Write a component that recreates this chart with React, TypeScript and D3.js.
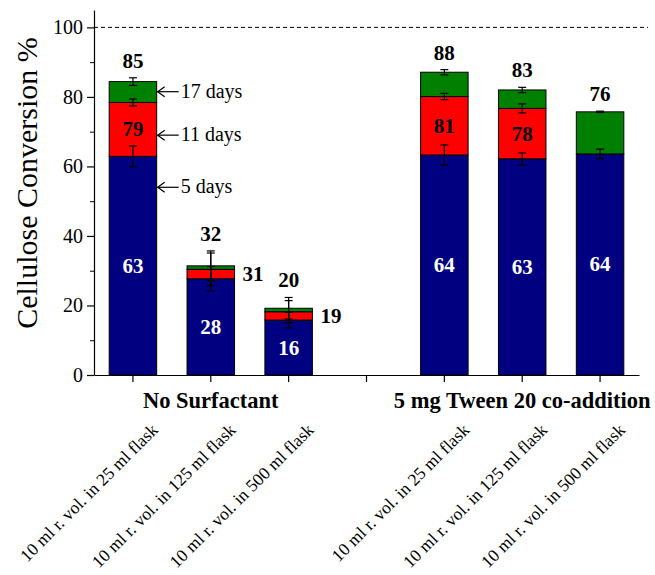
import { useEffect, useRef } from "react";
import * as d3 from "d3";

// slot 3 is the empty gap between the two groups
const slots = [0, 1, 2, 3, 4, 5, 6];
const barSlots = [0, 1, 2, 4, 5, 6];
const categories = [
  "10 ml r. vol. in 25 ml flask",
  "10 ml r. vol. in 125 ml flask",
  "10 ml r. vol. in 500 ml flask",
  "10 ml r. vol. in 25 ml flask",
  "10 ml r. vol. in 125 ml flask",
  "10 ml r. vol. in 500 ml flask",
];
const groups = ["No Surfactant", "5 mg Tween 20 co-addition"];
const groupCenters = [1, 5];

// cumulative conversion (%) after 5, 11 and 17 days
const day5 = [62.9, 27.7, 15.8, 63.3, 62.2, 63.6];
const day11 = [78.4, 30.4, 18.2, 80.1, 76.7, 63.6];
const day17 = [84.4, 31.4, 19.2, 87.1, 82.0, 75.7];
const err5 = [3.0, 3.5, 2.2, 2.9, 1.7, 1.4];
const err11 = [1.0, 4.7, 3.2, 0.9, 1.3, 0];
const err17 = [1.1, 4.3, 3.1, 0.75, 0.75, 0.2];
const labels5 = ["63", "28", "16", "64", "63", "64"];
const labels11 = ["79", "31", "19", "81", "78", ""];
const labels17 = ["85", "32", "20", "88", "83", "76"];

const dayNames = ["17 days", "11 days", "5 days"];
const dayArrowAt = [81.5, 69, 54];

const yTicks = [0, 20, 40, 60, 80, 100];
const yMinor = [10, 30, 50, 70, 90];

const colors = ["#000080", "#ff0000", "#008000"];

const App = () => {
  const svgRef = useRef<SVGSVGElement | null>(null);

  useEffect(() => {
    const svg = d3.select(svgRef.current);
    svg.selectAll("*").remove();

    const font = "'Liberation Serif', 'Times New Roman', serif";
    const x = d3.scaleBand<number>().domain(slots).range([94, 639]).paddingInner(0.39).paddingOuter(0.195);
    const y = d3.scaleLinear().domain([0, 105]).range([375, 10]);
    const bw = x.bandwidth();
    const cx = (i: number) => (x(barSlots[i]) as number) + bw / 2;

    // dashed 100% line
    svg.append("line")
      .attr("x1", 94).attr("x2", 648)
      .attr("y1", y(100)).attr("y2", y(100))
      .attr("stroke", "#000").attr("stroke-width", 1)
      .attr("stroke-dasharray", "4,3");

    // stacked bars
    const g = svg.append("g");
    barSlots.forEach((s, i) => {
      const segs = [
        [0, day5[i]],
        [day5[i], day11[i]],
        [day11[i], day17[i]],
      ];
      segs.forEach(([a, b], k) => {
        if (b - a <= 0) return;
        g.append("rect")
          .attr("x", x(s) as number)
          .attr("y", y(b))
          .attr("width", bw)
          .attr("height", y(a) - y(b))
          .attr("fill", colors[k])
          .attr("stroke", "#000")
          .attr("stroke-width", 1);
      });
    });

    // error bars
    const drawErr = (v: number, e: number, i: number) => {
      const c = cx(i);
      const eg = svg.append("g").attr("stroke", "#000").attr("stroke-width", 1.2);
      eg.append("line").attr("x1", c).attr("x2", c).attr("y1", y(v - e)).attr("y2", y(v + e));
      [v - e, v + e].forEach((t) => {
        eg.append("line").attr("x1", c - 4).attr("x2", c + 4).attr("y1", y(t)).attr("y2", y(t));
      });
    };
    barSlots.forEach((_, i) => {
      drawErr(day5[i], err5[i], i);
      if (day11[i] > day5[i]) drawErr(day11[i], err11[i], i);
      drawErr(day17[i], err17[i], i);
    });

    // value labels
    barSlots.forEach((_, i) => {
      const c = cx(i);
      svg.append("text")
        .attr("x", c).attr("y", (y(0) + y(day5[i])) / 2 + 7)
        .attr("text-anchor", "middle").attr("font-family", font)
        .attr("font-size", 21).attr("font-weight", "bold").attr("fill", "#fff")
        .text(labels5[i]);
      if (labels11[i]) {
        const mid = (y(day5[i]) + y(day11[i])) / 2 + 7;
        const small = y(day5[i]) - y(day11[i]) < 25;
        svg.append("text")
          .attr("x", small ? c + bw / 2 + 8 : c).attr("y", mid)
          .attr("text-anchor", small ? "start" : "middle").attr("font-family", font)
          .attr("font-size", 21).attr("font-weight", "bold").attr("fill", "#000")
          .text(labels11[i]);
      }
      svg.append("text")
        .attr("x", c).attr("y", y(day17[i] + err17[i]) - 10)
        .attr("text-anchor", "middle").attr("font-family", font)
        .attr("font-size", 21).attr("font-weight", "bold").attr("fill", "#000")
        .text(labels17[i]);
    });

    // day arrows next to first bar
    const ax = cx(0) + bw / 2 + 1;
    dayNames.forEach((t, k) => {
      const yy = y(dayArrowAt[k]);
      svg.append("line").attr("x1", ax).attr("x2", ax + 21).attr("y1", yy).attr("y2", yy)
        .attr("stroke", "#000").attr("stroke-width", 1.2);
      svg.append("path")
        .attr("d", `M${ax + 7},${yy - 5} L${ax},${yy} L${ax + 7},${yy + 5}`)
        .attr("fill", "none").attr("stroke", "#000").attr("stroke-width", 1.2);
      svg.append("text")
        .attr("x", ax + 23).attr("y", yy + 6)
        .attr("font-family", font).attr("font-size", 20)
        .text(t);
    });

    // y axis
    const yAxis = svg.append("g").attr("transform", "translate(94,0)")
      .call(d3.axisLeft(y).tickValues(yTicks).tickSize(7).tickSizeOuter(0).tickPadding(4));
    yAxis.selectAll("text").attr("font-family", font).attr("font-size", 20).attr("fill", "#000");
    svg.append("g").attr("transform", "translate(94,0)")
      .call(d3.axisLeft(y).tickValues(yMinor).tickSize(4).tickFormat(() => ""))
      .select(".domain").remove();

    // x axis
    const xAxis = svg.append("g").attr("transform", `translate(0,${y(0)})`)
      .call(d3.axisBottom(x).tickSize(7).tickSizeOuter(0).tickFormat(() => ""));
    xAxis.selectAll("line, path").attr("stroke-width", 1.2);
    yAxis.selectAll("line, path").attr("stroke-width", 1.2);

    // group labels
    groups.forEach((t, k) => {
      svg.append("text")
        .attr("x", (x(groupCenters[k]) as number) + bw / 2).attr("y", 408)
        .attr("text-anchor", "middle").attr("font-family", font)
        .attr("font-size", 22.5).attr("font-weight", "bold")
        .text(t);
    });

    // rotated category labels
    barSlots.forEach((s, i) => {
      const tx = (x(s) as number) + bw / 2 + 26;
      const ty = 431;
      svg.append("text")
        .attr("transform", `translate(${tx},${ty}) rotate(-45)`)
        .attr("text-anchor", "end").attr("font-family", font).attr("font-size", 17.5)
        .text(categories[i]);
    });

    // y title
    svg.append("text")
      .attr("transform", `translate(37,183) rotate(-90)`)
      .attr("text-anchor", "middle").attr("font-family", font).attr("font-size", 30)
      .text("Cellulose Conversion %");
  }, []);

  return (
    <svg
      ref={svgRef}
      width={655}
      height={575}
      style={{ position: "absolute", left: 0, top: 0, background: "#fff" }}
    />
  );
};

export default App;
